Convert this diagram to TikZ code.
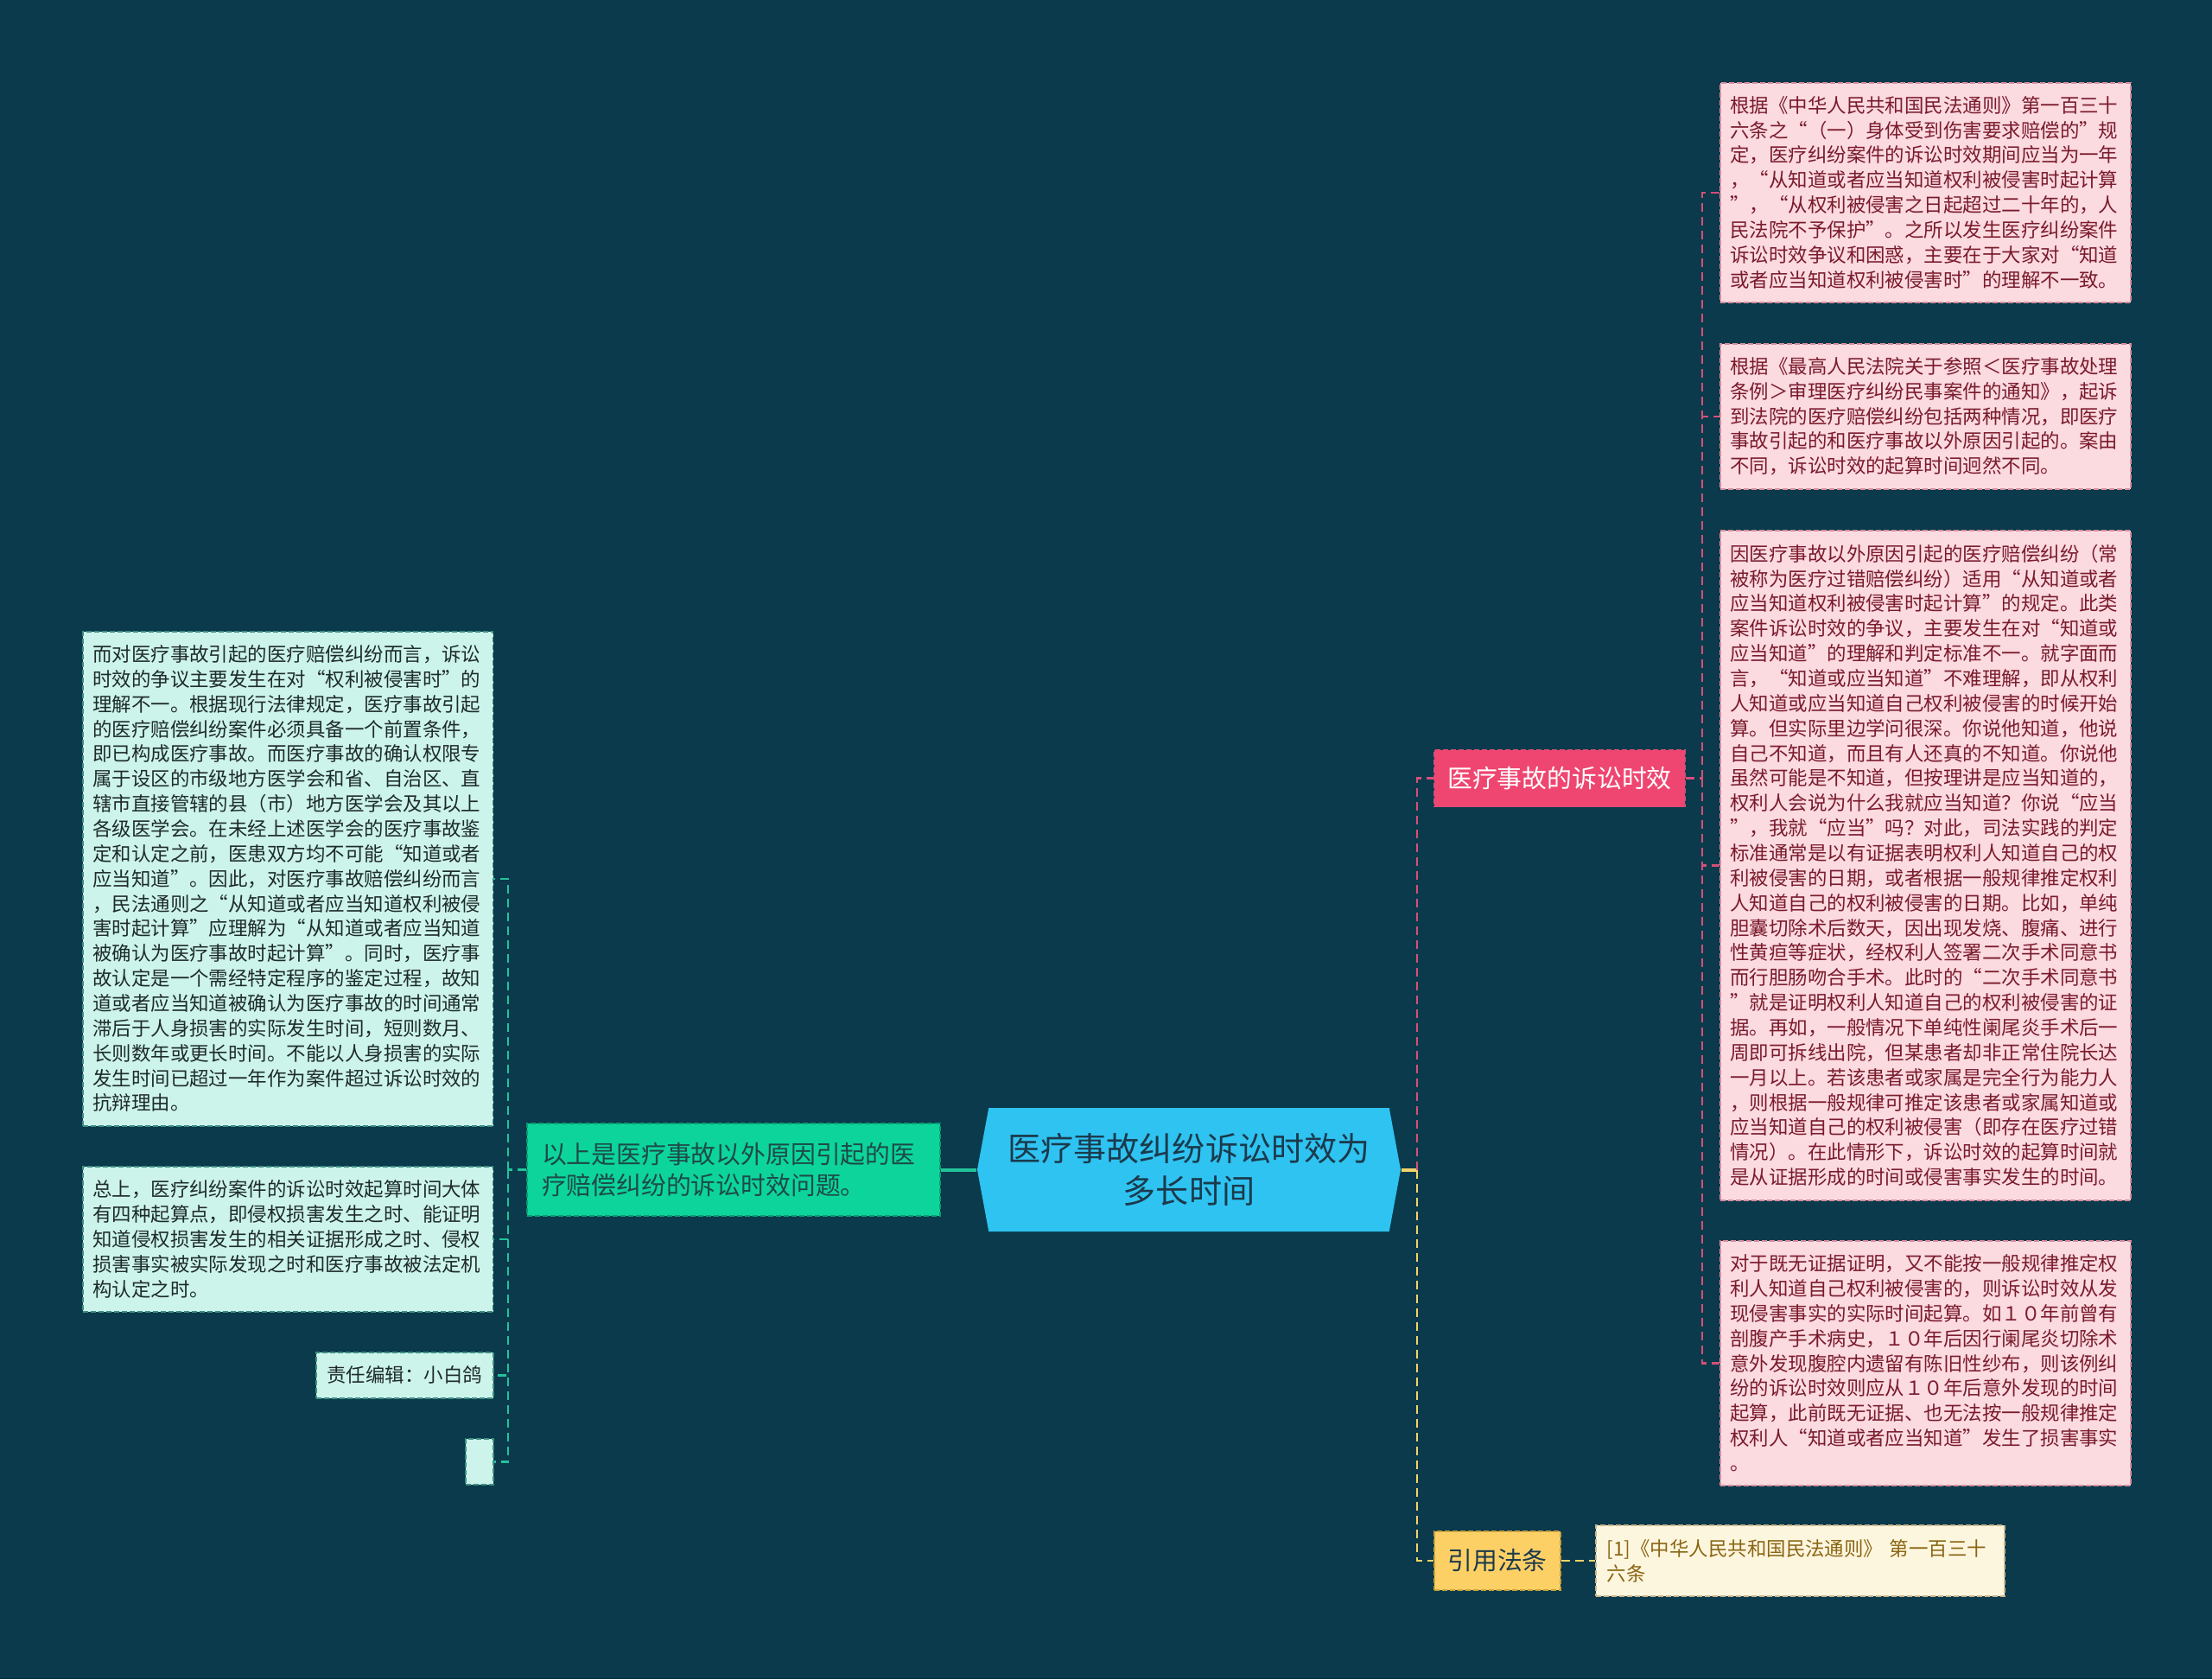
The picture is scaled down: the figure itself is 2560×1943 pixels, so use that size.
\documentclass[tikz,border=0pt]{standalone}
\usepackage{fontspec}
\setmainfont{Noto Sans CJK SC}
\usepackage{xcolor}
\usepackage{tikz}
\usetikzlibrary{shapes.symbols}

\definecolor{bgteal}{HTML}{0A3A4B}
\definecolor{rootblue}{HTML}{2FC3F1}
\definecolor{rootink}{HTML}{1B3A4C}
\definecolor{greenfill}{HTML}{0DD49B}
\definecolor{greenedge}{HTML}{0A9C72}
\definecolor{greenink}{HTML}{1D4A48}
\definecolor{mintleaf}{HTML}{CDF4EB}
\definecolor{mintedge}{HTML}{3C8F84}
\definecolor{mintink}{HTML}{1E2B2B}
\definecolor{roseleaf}{HTML}{FBDAE0}
\definecolor{roseedge}{HTML}{D98C9C}
\definecolor{roseink}{HTML}{7A1B2C}
\definecolor{rosenode}{HTML}{EE4670}
\definecolor{roseline}{HTML}{D64F78}
\definecolor{goldnode}{HTML}{FDD066}
\definecolor{goldedge}{HTML}{C99F3B}
\definecolor{goldline}{HTML}{F2D369}
\definecolor{creamleaf}{HTML}{FDF6DE}
\definecolor{creamedge}{HTML}{C9B58A}
\definecolor{creamink}{HTML}{8A6513}
\definecolor{tealline}{HTML}{22C39B}

\newcommand{\rootfont}{\fontsize{10.84pt}{13.9pt}\selectfont}
\newcommand{\subfont}{\fontsize{8.2pt}{10.5pt}\selectfont}
\newcommand{\leaffont}{\fontsize{6.39pt}{8.21pt}\selectfont}

\begin{document}
\begin{tikzpicture}[x=0.1mm, y=-0.1mm,
    boxdash/.style={dash pattern=on 0.6mm off 0.3mm, line width=0.15mm},
    rootbox/.style={signal, signal to=east and west, signal pointer angle=159,
      fill=rootblue, text=rootink, font=\rootfont, align=center,
      minimum width=49mm, minimum height=14.3mm, inner sep=0pt},
    subgreen/.style={boxdash, draw=greenedge, fill=greenfill, text=greenink,
      font=\subfont, align=left, text width=44.4mm, inner xsep=1.7mm,
      inner ysep=0.5mm, minimum height=10.7mm},
    subrose/.style={boxdash, draw=roseline, fill=rosenode, text=white,
      font=\subfont, minimum width=29mm, minimum height=6.6mm},
    subgold/.style={boxdash, draw=goldedge, fill=goldnode, text=rootink,
      font=\subfont, minimum width=14.6mm, minimum height=6.8mm},
    leafmint/.style={boxdash, draw=mintedge, fill=mintleaf, text=mintink,
      font=\leaffont, anchor=north west, align=left, text width=45.2mm,
      inner xsep=1.15mm, inner ysep=0.5mm},
    leafrose/.style={boxdash, draw=roseedge, fill=roseleaf, text=roseink,
      font=\leaffont, anchor=north west, align=left, text width=45.2mm,
      inner xsep=1.15mm, inner ysep=0.5mm},
    leafcream/.style={boxdash, draw=creamedge, fill=creamleaf, text=creamink,
      font=\leaffont, anchor=west, align=left, text width=44.7mm,
      inner xsep=1.3mm, inner ysep=0.5mm, minimum height=8.2mm},
    stem/.style={line width=0.4mm},
    twig/.style={line width=0.25mm, dash pattern=on 1mm off 0.6mm}]

    \fill[bgteal] (0,0) rectangle (2560,1943);

    \node[rootbox] (root) at (1376,1353.5) {医疗事故纠纷诉讼时效为\\多长时间};
    \node[subgreen] (outside) at (849,1353.5) {以上是医疗事故以外原因引起的医\\疗赔偿纠纷的诉讼时效问题。};
    \node[subrose] (acc) at (1805,900.5) {医疗事故的诉讼时效};
    \node[subgold] (law) at (1733,1806) {引用法条};
    \node[leafcream] (cite) at (1846,1806) {[1]《中华人民共和国民法通则》 第一百三十\\六条};

    \node[leafrose, minimum height=25.4mm] (p1) at (1990,95) {根据《中华人民共和国民法通则》第一百三十\\六条之“（一）身体受到伤害要求赔偿的”规\\定，医疗纠纷案件的诉讼时效期间应当为一年\\，“从知道或者应当知道权利被侵害时起计算\\”，“从权利被侵害之日起超过二十年的，人\\民法院不予保护”。之所以发生医疗纠纷案件\\诉讼时效争议和困惑，主要在于大家对“知道\\或者应当知道权利被侵害时”的理解不一致。};
    \node[leafrose, minimum height=16.8mm] (p2) at (1990,397) {根据《最高人民法院关于参照＜医疗事故处理\\条例＞审理医疗纠纷民事案件的通知》，起诉\\到法院的医疗赔偿纠纷包括两种情况，即医疗\\事故引起的和医疗事故以外原因引起的。案由\\不同，诉讼时效的起算时间迥然不同。};
    \node[leafrose, minimum height=77.5mm] (p3) at (1990,613) {因医疗事故以外原因引起的医疗赔偿纠纷（常\\被称为医疗过错赔偿纠纷）适用“从知道或者\\应当知道权利被侵害时起计算”的规定。此类\\案件诉讼时效的争议，主要发生在对“知道或\\应当知道”的理解和判定标准不一。就字面而\\言，“知道或应当知道”不难理解，即从权利\\人知道或应当知道自己权利被侵害的时候开始\\算。但实际里边学问很深。你说他知道，他说\\自己不知道，而且有人还真的不知道。你说他\\虽然可能是不知道，但按理讲是应当知道的，\\权利人会说为什么我就应当知道？你说“应当\\”，我就“应当”吗？对此，司法实践的判定\\标准通常是以有证据表明权利人知道自己的权\\利被侵害的日期，或者根据一般规律推定权利\\人知道自己的权利被侵害的日期。比如，单纯\\胆囊切除术后数天，因出现发烧、腹痛、进行\\性黄疸等症状，经权利人签署二次手术同意书\\而行胆肠吻合手术。此时的“二次手术同意书\\”就是证明权利人知道自己的权利被侵害的证\\据。再如，一般情况下单纯性阑尾炎手术后一\\周即可拆线出院，但某患者却非正常住院长达\\一月以上。若该患者或家属是完全行为能力人\\，则根据一般规律可推定该患者或家属知道或\\应当知道自己的权利被侵害（即存在医疗过错\\情况）。在此情形下，诉讼时效的起算时间就\\是从证据形成的时间或侵害事实发生的时间。};
    \node[leafrose, minimum height=28.3mm] (p4) at (1990,1435) {对于既无证据证明，又不能按一般规律推定权\\利人知道自己权利被侵害的，则诉讼时效从发\\现侵害事实的实际时间起算。如１０年前曾有\\剖腹产手术病史，１０年后因行阑尾炎切除术\\意外发现腹腔内遗留有陈旧性纱布，则该例纠\\纷的诉讼时效则应从１０年后意外发现的时间\\起算，此前既无证据、也无法按一般规律推定\\权利人“知道或者应当知道”发生了损害事实\\。};

    \node[leafmint, minimum height=57.2mm] (l1) at (95,730) {而对医疗事故引起的医疗赔偿纠纷而言，诉讼\\时效的争议主要发生在对“权利被侵害时”的\\理解不一。根据现行法律规定，医疗事故引起\\的医疗赔偿纠纷案件必须具备一个前置条件，\\即已构成医疗事故。而医疗事故的确认权限专\\属于设区的市级地方医学会和省、自治区、直\\辖市直接管辖的县（市）地方医学会及其以上\\各级医学会。在未经上述医学会的医疗事故鉴\\定和认定之前，医患双方均不可能“知道或者\\应当知道”。因此，对医疗事故赔偿纠纷而言\\，民法通则之“从知道或者应当知道权利被侵\\害时起计算”应理解为“从知道或者应当知道\\被确认为医疗事故时起计算”。同时，医疗事\\故认定是一个需经特定程序的鉴定过程，故知\\道或者应当知道被确认为医疗事故的时间通常\\滞后于人身损害的实际发生时间，短则数月、\\长则数年或更长时间。不能以人身损害的实际\\发生时间已超过一年作为案件超过诉讼时效的\\抗辩理由。};
    \node[leafmint, minimum height=16.8mm] (l2) at (95,1349) {总上，医疗纠纷案件的诉讼时效起算时间大体\\有四种起算点，即侵权损害发生之时、能证明\\知道侵权损害发生的相关证据形成之时、侵权\\损害事实被实际发现之时和医疗事故被法定机\\构认定之时。};
    \node[leafmint, text width=18mm, inner xsep=1.25mm, minimum height=5.3mm] (l3) at (365,1564) {责任编辑：小白鸽};
    \node[leafmint, text width=0.7mm, inner xsep=1.25mm, minimum height=5.3mm] (l4) at (538,1664) {};

    \coordinate (lj) at (588,1353.5);
    \coordinate (rj) at (1640,1353.5);
    \coordinate (pj) at (1970,900.5);

    \draw[stem, tealline] (root.west) -- (outside.east);
    \draw[stem, goldline] (root.east) -- (rj);
    \draw[twig, tealline] (outside.west) -- (lj);
    \foreach \leaf in {l1,l2,l3,l4}
        \draw[twig, tealline] (lj) |- (\leaf.east);
    \draw[twig, roseline] (rj) |- (acc.west);
    \draw[twig, goldline] (rj) |- (law.west);
    \draw[twig, roseline] (acc.east) -- (pj);
    \foreach \leaf in {p1,p2,p3,p4}
        \draw[twig, roseline] (pj) |- (\leaf.west);
    \draw[twig, goldline] (law.east) -- (cite.west);
\end{tikzpicture}
\end{document}
